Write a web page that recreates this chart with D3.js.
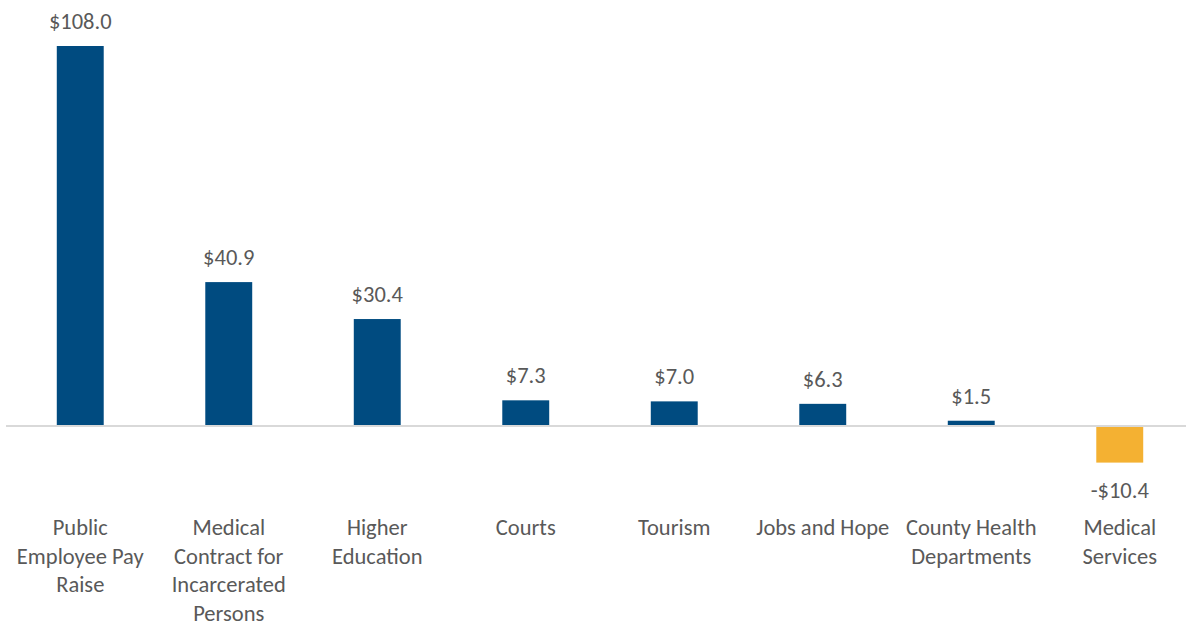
<!DOCTYPE html>
<html lang="en">
<head>
  <meta charset="UTF-8">
  <title>Budget changes</title>
  <script src="https://cdn.jsdelivr.net/npm/d3@7.9.0/dist/d3.min.js"></script>
  <style>
    html, body { margin: 0; padding: 0; background: #fff; }
    svg text { font-family: Carlito, Calibri, Lato, "Open Sans", sans-serif; fill: #595959; }
  </style>
</head>
<body>
  <svg id="chart" width="1186" height="626"></svg>
  <script>
    // data, $ millions
    const categories = [
      ["Public", "Employee Pay", "Raise"],
      ["Medical", "Contract for", "Incarcerated", "Persons"],
      ["Higher", "Education"],
      ["Courts"],
      ["Tourism"],
      ["Jobs and Hope"],
      ["County Health", "Departments"],
      ["Medical", "Services"]
    ];
    const values = [108.0, 40.9, 30.4, 7.3, 7.0, 6.3, 1.5, -10.4];
    const valueLabels = ["$108.0", "$40.9", "$30.4", "$7.3", "$7.0", "$6.3", "$1.5", "-$10.4"];

    const svg = d3.select("#chart");
    const idx = d3.range(values.length);
    const fontSize = 22.5;

    const x = d3.scaleBand().domain(idx).range([6, 1194]).padding(0);
    const y = d3.scaleLinear().domain([-10.4, 108]).range([462.6, 46]);
    const barW = x.bandwidth() * 0.316;

    // bars
    svg.append("g").selectAll("rect")
      .data(idx)
      .join("rect")
      .attr("x", i => x(i) + (x.bandwidth() - barW) / 2)
      .attr("width", barW)
      .attr("y", i => y(Math.max(0, values[i])))
      .attr("height", i => Math.abs(y(values[i]) - y(0)))
      .attr("fill", i => values[i] < 0 ? "#f4b132" : "#004b80");

    // zero line
    svg.append("line")
      .attr("x1", 6).attr("x2", 1186)
      .attr("y1", y(0)).attr("y2", y(0))
      .attr("stroke", "#d9d9d9").attr("stroke-width", 2);

    // value labels
    svg.append("g").selectAll("text")
      .data(idx)
      .join("text")
      .attr("x", i => x(i) + x.bandwidth() / 2)
      .attr("y", i => values[i] < 0 ? y(values[i]) + 35 : y(values[i]) - 17)
      .attr("text-anchor", "middle")
      .attr("font-size", fontSize)
      .text(i => valueLabels[i]);

    // category labels
    const cat = svg.append("g").selectAll("text")
      .data(idx)
      .join("text")
      .attr("text-anchor", "middle")
      .attr("font-size", fontSize)
      .attr("y", 535);
    cat.selectAll("tspan")
      .data(i => categories[i].map(t => ({ t, i })))
      .join("tspan")
      .attr("x", d => x(d.i) + x.bandwidth() / 2)
      .attr("dy", (d, k) => k === 0 ? 0 : 28.5)
      .text(d => d.t);
  </script>
</body>
</html>
